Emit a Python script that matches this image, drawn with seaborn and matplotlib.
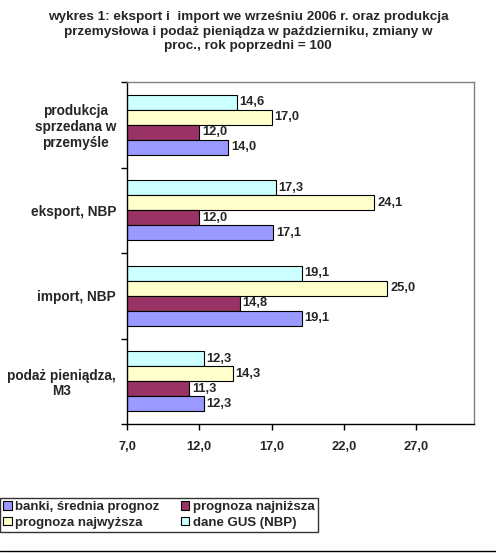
import pandas as pd
import matplotlib.pyplot as plt
import seaborn as sns
from matplotlib.patches import Patch
from matplotlib.ticker import FixedLocator

categories = ['produkcja\nsprzedana w\nprzemyśle', 'eksport, NBP', 'import, NBP', 'podaż pieniądza,\nM3']
series = ['dane GUS (NBP)', 'prognoza najwyższa', 'prognoza najniższa', 'banki, średnia prognoz']
gus = [14.6, 17.3, 19.1, 12.3]
najwyzsza = [17.0, 24.1, 25.0, 14.3]
najnizsza = [12.0, 12.0, 14.8, 11.3]
banki = [14.0, 17.1, 19.1, 12.3]
xticks = [7, 12, 17, 22, 27]
colors = {'dane GUS (NBP)': '#CCFFFF', 'prognoza najwyższa': '#FFFFCC',
          'prognoza najniższa': '#993366', 'banki, średnia prognoz': '#9999FF'}

rows = []
for s, vals in zip(series, [gus, najwyzsza, najnizsza, banki]):
    for c, v in zip(categories, vals):
        rows.append({'kat': c, 'seria': s, 'wartosc': v})
df = pd.DataFrame(rows)

sns.set_style('white')
plt.rcParams['font.family'] = ['Liberation Sans', 'DejaVu Sans']
plt.rcParams['font.weight'] = 'bold'

fig = plt.figure(figsize=(4.96, 5.54), dpi=100)
ax = fig.add_axes([127 / 496, 1 - 424 / 554, 347 / 496, 342 / 554])

sns.barplot(data=df, y='kat', x='wartosc', hue='seria', hue_order=series,
            order=categories, palette=colors, width=0.7, orient='h',
            edgecolor='black', linewidth=0.8, saturation=1, legend=False, ax=ax)

for cont in ax.containers:
    ax.bar_label(cont, labels=[f'{v:.1f}'.replace('.', ',') for v in cont.datavalues],
                 padding=2, fontsize=9.3, fontweight='bold')

ax.set_xlim(7, 31)
ax.set_ylim(3.5, -0.5)
ax.set_xticks(xticks)
ax.set_xticklabels([f'{t:.1f}'.replace('.', ',') for t in xticks],
                   fontsize=9.3, fontweight='bold')
ax.tick_params(axis='x', direction='out', length=4, width=1, color='black', pad=8, bottom=True)
ax.set_yticks(range(4))
ax.set_yticklabels(categories, fontsize=9.8, fontweight='bold', multialignment='center',
                   linespacing=1.15)
ax.tick_params(axis='y', which='major', length=0, pad=8)
ax.yaxis.set_minor_locator(FixedLocator([-0.5, 0.5, 1.5, 2.5, 3.5]))
ax.tick_params(axis='y', which='minor', direction='out', length=4, width=1, color='black', left=True)
ax.set_xlabel('')
ax.set_ylabel('')

for side in ['top', 'right']:
    ax.spines[side].set_color('#808080')
    ax.spines[side].set_linewidth(1)
for side in ['left', 'bottom']:
    ax.spines[side].set_color('black')
    ax.spines[side].set_linewidth(1)

fig.text(0.5, 1 - 11 / 554,
         'wykres 1: eksport i  import we wrześniu 2006 r. oraz produkcja\n'
         'przemysłowa i podaż pieniądza w październiku, zmiany w\n'
         'proc., rok poprzedni = 100',
         ha='center', va='top', fontsize=9.7, fontweight='bold', linespacing=1.3)

labels = ['banki, średnia prognoz', 'prognoza najwyższa', 'prognoza najniższa', 'dane GUS (NBP)']
handles = [Patch(facecolor=colors[s], edgecolor='black', linewidth=0.8) for s in labels]
leg = fig.legend(handles, labels, ncol=2, loc='upper left', bbox_to_anchor=(0, 1 - 498 / 554),
                 frameon=True, fancybox=False, edgecolor='black', fontsize=9.5,
                 handlelength=0.65, handleheight=0.65, handletextpad=0.25, columnspacing=1.6,
                 borderpad=0.25, labelspacing=0.25, borderaxespad=0)
leg.get_frame().set_linewidth(1)

fig.add_artist(plt.Line2D([0, 1], [1 - 551 / 554, 1 - 551 / 554], color='black', linewidth=1,
                          transform=fig.transFigure))

fig.savefig('out.png', dpi=100)
